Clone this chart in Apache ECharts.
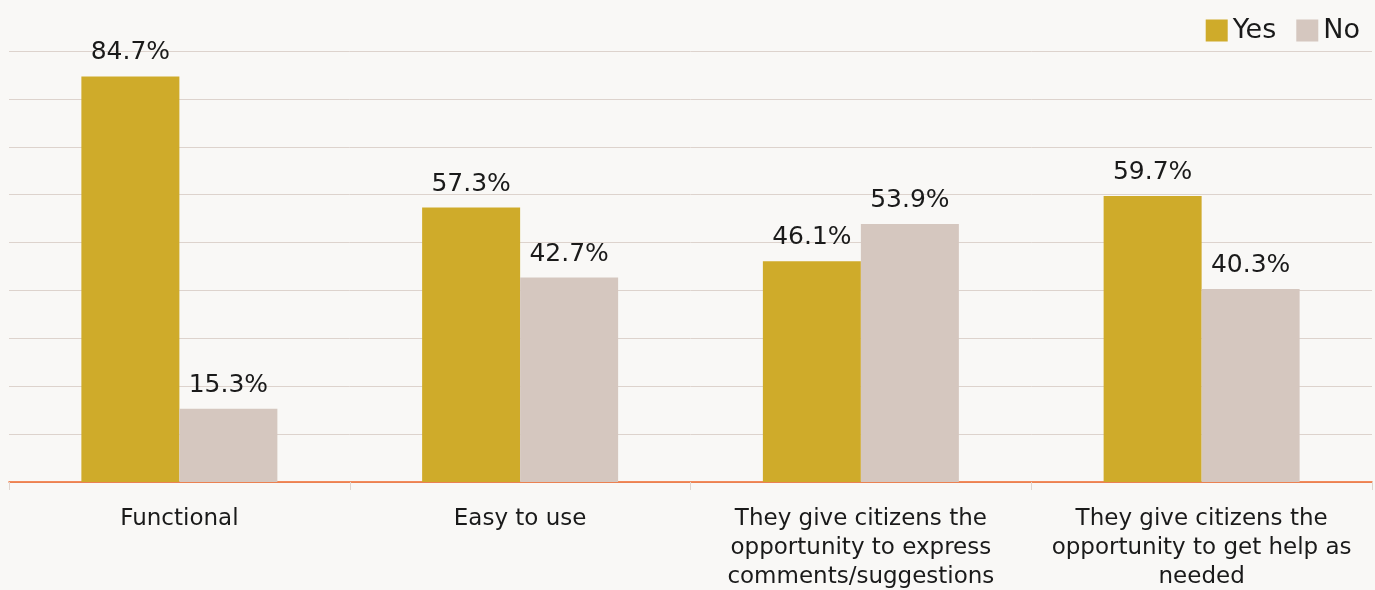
<!DOCTYPE html>
<html>
<head>
<meta charset="utf-8">
<script src="https://cdn.jsdelivr.net/npm/echarts@6/dist/echarts.min.js"></script>
<style>
html,body{margin:0;padding:0;background:#f9f8f6;}
#c{width:1375px;height:590px;}
</style>
</head>
<body>
<div id="c"></div>
<script>
const categories = [
  "Functional",
  "Easy to use",
  "They give citizens the\nopportunity to express\ncomments/suggestions",
  "They give citizens the\nopportunity to get help as\nneeded"
];
const yesValues = [84.7, 57.3, 46.1, 59.7];
const noValues = [15.3, 42.7, 53.9, 40.3];
const seriesNames = ["Yes", "No"];
const yTicks = [0, 10, 20, 30, 40, 50, 60, 70, 80, 90];

const FONT = "DejaVu Sans";
const chart = echarts.init(document.getElementById('c'));
const labelCfg = {
  show: true,
  position: 'top',
  distance: 11,
  color: '#1a1a1a',
  fontFamily: FONT,
  fontSize: 25,
  formatter: p => p.value.toFixed(1) + '%'
};
chart.setOption({
  backgroundColor: '#f9f8f6',
  animation: false,
  textStyle: { fontFamily: FONT },
  legend: {
    data: seriesNames,
    right: 10,
    top: 12,
    icon: 'rect',
    itemWidth: 22,
    itemHeight: 22,
    itemGap: 20,
    textStyle: { fontFamily: FONT, fontSize: 27, color: '#1a1a1a', padding: [0, 0, 0, 0] }
  },
  grid: { left: 9, right: 3, top: 51, bottom: 108, containLabel: false, outerBoundsMode: 'none' },
  xAxis: {
    type: 'category',
    data: categories,
    axisLine: { lineStyle: { color: '#f0672a', width: 1.5 } },
    axisTick: { show: true, length: 8, lineStyle: { color: '#e0d5cf' } },
    axisLabel: {
      interval: 0,
      margin: 23,
      color: '#1a1a1a',
      fontFamily: FONT,
      fontSize: 23,
      lineHeight: 29
    }
  },
  yAxis: {
    type: 'value',
    min: yTicks[0],
    max: yTicks[yTicks.length - 1],
    interval: 10,
    axisLabel: { show: false },
    axisLine: { show: false },
    axisTick: { show: false },
    splitLine: { lineStyle: { color: '#ddd3cd', width: 1 } }
  },
  series: [
    {
      name: seriesNames[0], type: 'bar', data: yesValues,
      barWidth: 98, barGap: '0%',
      itemStyle: { color: '#cfab2a' },
      label: labelCfg
    },
    {
      name: seriesNames[1], type: 'bar', data: noValues,
      barWidth: 98,
      itemStyle: { color: '#d5c7bf' },
      label: labelCfg
    }
  ]
});
</script>
</body>
</html>
